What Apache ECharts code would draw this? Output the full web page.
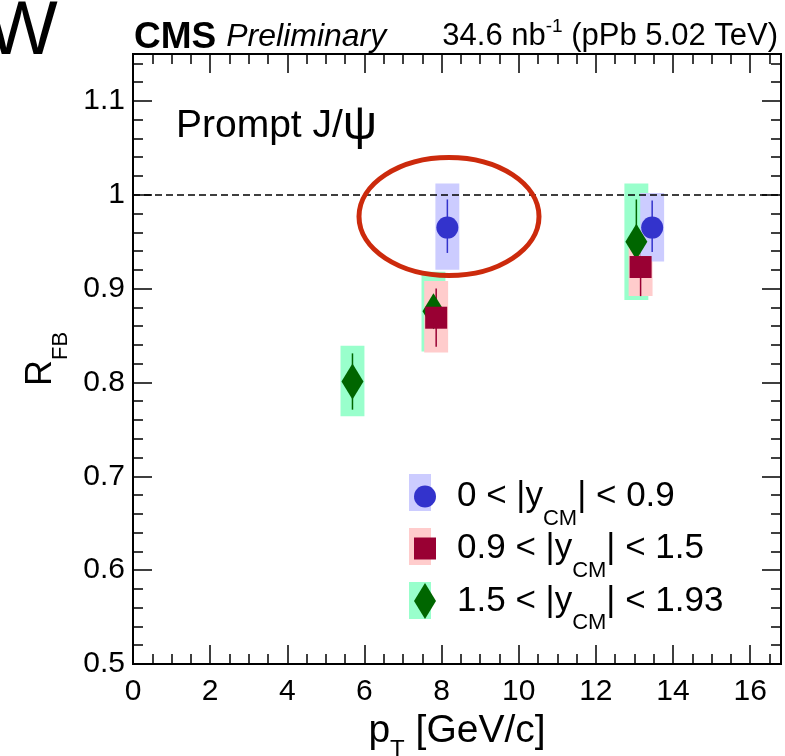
<!DOCTYPE html>
<html>
<head>
<meta charset="utf-8">
<title>RFB prompt J/psi</title>
<script src="https://cdn.jsdelivr.net/npm/echarts@6/dist/echarts.min.js"></script>
<style>
  html, body { margin: 0; padding: 0; background: #fff; }
  #chart { width: 785px; height: 756px; }
</style>
</head>
<body>
<div id="chart"></div>
<script>
// forward/backward ratio of prompt J/psi vs pT, three |y_CM| bins
const rapidityBins = ['0 < |y_CM| < 0.9', '0.9 < |y_CM| < 1.5', '1.5 < |y_CM| < 1.93'];

// 0 < |y_CM| < 0.9
const ptBin1 = [8.15, 13.46];
const rfbBin1 = [0.965, 0.965];
const statLoBin1 = [0.938, 0.939];
const statHiBin1 = [0.995, 0.994];
const sysLoBin1 = [0.920, 0.929];
const sysHiBin1 = [1.012, 1.002];

// 0.9 < |y_CM| < 1.5
const ptBin2 = [7.86, 13.16];
const rfbBin2 = [0.869, 0.923];
const statLoBin2 = [0.838, 0.892];
const statHiBin2 = [0.900, 0.954];
const sysLoBin2 = [0.832, 0.892];
const sysHiBin2 = [0.908, 0.954];

// 1.5 < |y_CM| < 1.93
const ptBin3 = [5.69, 7.79, 13.05];
const rfbBin3 = [0.801, 0.876, 0.950];
const statLoBin3 = [0.771, 0.849, 0.905];
const statHiBin3 = [0.831, 0.902, 0.995];
const sysLoBin3 = [0.764, 0.833, 0.888];
const sysHiBin3 = [0.839, 0.918, 1.012];

const unityLine = 1;

const markerColor = ['#3333cc', '#990033', '#006600'];
const boxColor = ['#ccccff', '#ffcccc', '#99ffcc'];
const SYS_HALF = 0.31;   // half width of the syst. boxes, in GeV/c
const FONT = '"Liberation Sans", Arial, Helvetica, sans-serif';

function rows(pt, r, sLo, sHi, yLo, yHi) {
    return pt.map((x, i) => [x, r[i], sLo[i], sHi[i], yLo[i], yHi[i]]);
}
const bin1 = rows(ptBin1, rfbBin1, statLoBin1, statHiBin1, sysLoBin1, sysHiBin1);
const bin2 = rows(ptBin2, rfbBin2, statLoBin2, statHiBin2, sysLoBin2, sysHiBin2);
const bin3 = rows(ptBin3, rfbBin3, statLoBin3, statHiBin3, sysLoBin3, sysHiBin3);

function errorBox(fill, stroke) {
    return function (params, api) {
        const x = api.value(0);
        const a = api.coord([x - SYS_HALF, api.value(5)]);
        const b = api.coord([x + SYS_HALF, api.value(4)]);
        const s1 = api.coord([x, api.value(3)]);
        const s2 = api.coord([x, api.value(2)]);
        return {
            type: 'group',
            children: [
                { type: 'rect', shape: { x: a[0], y: a[1], width: b[0] - a[0], height: b[1] - a[1] }, style: { fill: fill } },
                { type: 'line', shape: { x1: s1[0], y1: s1[1], x2: s2[0], y2: s2[1] }, style: { stroke: stroke, lineWidth: 1.5 } }
            ]
        };
    };
}

const blackLine = { show: true, onZero: false, lineStyle: { color: '#000', width: 2 } };
function xAx(position, interval, tickLen, withLabels) {
    return {
        type: 'value', position: position, min: 0, max: 16.8, interval: interval,
        axisLine: blackLine,
        axisTick: { show: true, inside: true, length: tickLen, lineStyle: { color: '#000', width: 1.5 } },
        axisLabel: { show: withLabels, showMaxLabel: false, color: '#000', fontSize: 30, fontFamily: FONT, margin: 13 },
        splitLine: { show: false }
    };
}
function yAx(position, interval, tickLen, withLabels) {
    return {
        type: 'value', position: position, min: 0.5, max: 1.15, interval: interval,
        axisLine: blackLine,
        axisTick: { show: true, inside: true, length: tickLen, lineStyle: { color: '#000', width: 1.5 } },
        axisLabel: { show: withLabels, showMaxLabel: false, color: '#000', fontSize: 30, fontFamily: FONT, margin: 8 },
        splitLine: { show: false }
    };
}

const xMain = xAx('bottom', 2, 19, true);
xMain.name = 'p{sub|T} [GeV/c]';
xMain.nameLocation = 'middle';
xMain.nameGap = 28;
xMain.nameTextStyle = { color: '#000', fontSize: 39, fontFamily: FONT,
    rich: { sub: { fontSize: 24, fontFamily: FONT, color: '#000', padding: [38, 0, 0, 0] } } };

const yMain = yAx('left', 0.1, 19, true);
yMain.name = '{r|R}{sub|FB}';
yMain.nameLocation = 'middle';
yMain.nameRotate = 90;
yMain.nameGap = 56;
yMain.nameTextStyle = { color: '#000', fontFamily: FONT,
    rich: { r: { fontSize: 36, fontFamily: FONT, color: '#000' },
            sub: { fontSize: 22, fontFamily: FONT, color: '#000', padding: [40, 0, 0, 0] } } };

const option = {
    animation: false,
    backgroundColor: '#fff',
    textStyle: { fontFamily: FONT },
    title: [
        { text: '{b|CMS}  {i|Preliminary}', left: 129, top: 14,
          textStyle: { rich: {
              b: { fontSize: 37, fontWeight: 'bold', fontFamily: FONT, color: '#000' },
              i: { fontSize: 32, fontWeight: 'normal', fontStyle: 'italic', fontFamily: FONT, color: '#000' } } } },
        { text: '34.6 nb{sup|-1} (pPb 5.02 TeV)', right: 2, top: 12,
          textStyle: { fontSize: 31, fontWeight: 'normal', fontFamily: FONT, color: '#000',
              rich: { sup: { fontSize: 19, fontFamily: FONT, color: '#000', padding: [0, 0, 20, 0] } } } },
        { text: 'Prompt J/{psi|ψ}', left: 171, top: 97,
          textStyle: { fontSize: 39, fontWeight: 'normal', fontFamily: FONT, color: '#000',
              rich: { psi: { fontSize: 48, fontFamily: FONT, color: '#000' } } } }
    ],
    grid: { left: 133, right: 4, top: 54, bottom: 92, containLabel: false, outerBoundsMode: 'none' },
    xAxis: [xMain, xAx('bottom', 0.5, 10, false), xAx('top', 2, 19, false), xAx('top', 0.5, 10, false)],
    yAxis: [yMain, yAx('left', 0.02, 10, false), yAx('right', 0.1, 19, false), yAx('right', 0.02, 10, false)],
    legend: {
        orient: 'vertical', left: 409, top: 474,
        itemWidth: 22, itemHeight: 36, itemGap: 1.5,
        selectedMode: false,
        data: [
            { name: rapidityBins[0], icon: 'circle' },
            { name: rapidityBins[1], icon: 'path://M0,0H10V10H0Z' },
            { name: rapidityBins[2], icon: 'diamond' }
        ],
        formatter: name => name.replace('_CM', '{sub|CM}'),
        textStyle: { fontSize: 35, color: '#000', fontFamily: FONT, padding: [0, 0, 0, 16],
            rich: { sub: { fontSize: 22, color: '#000', fontFamily: FONT, padding: [44, 0, 0, 0] } } }
    },
    graphic: [
        { type: 'text', left: -14, top: -5, z: 10,
          style: { text: 'W', fontSize: 76, fontFamily: FONT, fill: '#000' } },
        { type: 'rect', shape: { x: 409, y: 474, width: 22, height: 37 }, style: { fill: boxColor[0] }, z: 0 },
        { type: 'rect', shape: { x: 409, y: 528, width: 22, height: 37 }, style: { fill: boxColor[1] }, z: 0 },
        { type: 'rect', shape: { x: 409, y: 582, width: 22, height: 37 }, style: { fill: boxColor[2] }, z: 0 },
        { type: 'ellipse', shape: { cx: 449, cy: 216.5, rx: 90, ry: 59 }, z: 20,
          style: { fill: 'none', stroke: '#cc2a0c', lineWidth: 5 } }
    ],
    series: [
        { type: 'custom', renderItem: errorBox(boxColor[2], markerColor[2]), data: bin3, z: 2, silent: true },
        { type: 'custom', renderItem: errorBox(boxColor[1], markerColor[1]), data: bin2, z: 2, silent: true },
        { type: 'custom', renderItem: errorBox(boxColor[0], markerColor[0]), data: bin1, z: 2, silent: true },
        { name: rapidityBins[2], type: 'scatter', symbol: 'diamond', symbolSize: [22, 36], z: 3,
          itemStyle: { color: markerColor[2], opacity: 1 }, data: bin3.map(d => [d[0], d[1]]) },
        { name: rapidityBins[1], type: 'scatter', symbol: 'rect', symbolSize: 22, z: 3,
          itemStyle: { color: markerColor[1], opacity: 1 }, data: bin2.map(d => [d[0], d[1]]) },
        { name: rapidityBins[0], type: 'scatter', symbol: 'circle', symbolSize: 22, z: 3,
          itemStyle: { color: markerColor[0], opacity: 1 }, data: bin1.map(d => [d[0], d[1]]),
          markLine: { silent: true, symbol: 'none', label: { show: false },
              lineStyle: { color: '#000', width: 1.5, type: [7, 4] },
              data: [{ yAxis: unityLine }] } }
    ]
};

const chart = echarts.init(document.getElementById('chart'), null, { renderer: 'canvas' });
chart.setOption(option);
</script>
</body>
</html>
